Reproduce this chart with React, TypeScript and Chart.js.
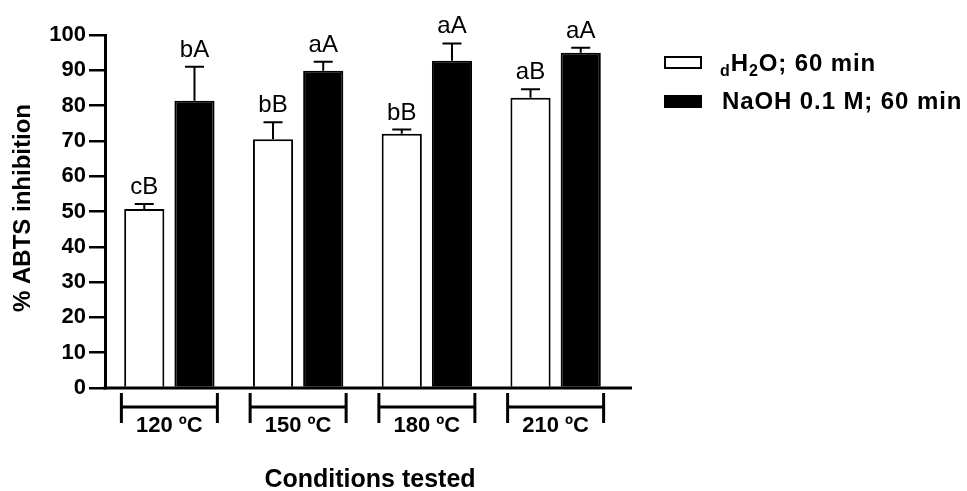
import React, { useEffect, useRef } from 'react';
import { Chart, registerables } from 'chart.js';

Chart.register(...registerables);

const categories = ['120 ºC', '150 ºC', '180 ºC', '210 ºC'];
const waterValues = [50.7, 70.5, 72.0, 82.2];
const waterErrors = [1.4, 4.8, 1.2, 2.4];
const naohValues = [81.4, 89.9, 92.7, 95.0];
const naohErrors = [9.6, 2.5, 4.9, 1.4];
const waterLetters = ['cB', 'bB', 'bB', 'aB'];
const naohLetters = ['bA', 'aA', 'aA', 'aA'];
const yMin = 0;
const yMax = 100;
const yStep = 10;
const yTitle = '% ABTS inhibition';
const xTitle = 'Conditions tested';
const naohLegend = 'NaOH 0.1 M; 60 min';

const FONT = '"Liberation Sans", Arial, Helvetica, sans-serif';

const overlay = {
  id: 'overlay',
  afterDraw(chart: any) {
    const ctx = chart.ctx as CanvasRenderingContext2D;
    const xs = chart.scales.x;
    const ys = chart.scales.y;
    const area = chart.chartArea;
    ctx.save();
    ctx.strokeStyle = '#000';
    ctx.fillStyle = '#000';
    const base = ys.getPixelForValue(0);

    // x baseline
    ctx.lineWidth = 3;
    ctx.beginPath();
    ctx.moveTo(area.left - 1.5, base);
    ctx.lineTo(area.right + 12, base);
    ctx.stroke();

    // error bars and letters
    const sets: [number[], number[], string[]][] = [
      [waterValues, waterErrors, waterLetters],
      [naohValues, naohErrors, naohLetters],
    ];
    sets.forEach(([vals, errs, lets], di) => {
      const meta = chart.getDatasetMeta(di);
      meta.data.forEach((bar: any, i: number) => {
        const top = ys.getPixelForValue(vals[i] + errs[i]);
        const bx = bar.x;
        ctx.lineWidth = 2;
        ctx.beginPath();
        ctx.moveTo(bx, bar.y);
        ctx.lineTo(bx, top);
        ctx.moveTo(bx - 9.5, top);
        ctx.lineTo(bx + 9.5, top);
        ctx.stroke();
        ctx.font = `24px ${FONT}`;
        ctx.textAlign = 'center';
        ctx.textBaseline = 'alphabetic';
        ctx.fillText(lets[i], bx, top - 10);
      });
    });

    // category brackets
    categories.forEach((c, i) => {
      const cx = xs.getPixelForValue(i);
      const l = cx - 48;
      const r = cx + 48;
      ctx.lineWidth = 3;
      ctx.beginPath();
      ctx.moveTo(l, base + 5);
      ctx.lineTo(l, base + 35);
      ctx.moveTo(r, base + 5);
      ctx.lineTo(r, base + 35);
      ctx.moveTo(l, base + 19);
      ctx.lineTo(r, base + 19);
      ctx.stroke();
      ctx.font = `bold 22px ${FONT}`;
      ctx.textAlign = 'center';
      ctx.textBaseline = 'alphabetic';
      ctx.fillText(c, cx, base + 44);
    });

    // axis titles
    ctx.save();
    ctx.translate(23, 208);
    ctx.rotate(-Math.PI / 2);
    ctx.font = `bold 24px ${FONT}`;
    ctx.textAlign = 'center';
    ctx.textBaseline = 'middle';
    ctx.fillText(yTitle, 0, 0);
    ctx.restore();

    ctx.font = `bold 25px ${FONT}`;
    ctx.textAlign = 'center';
    ctx.textBaseline = 'middle';
    ctx.fillText(xTitle, 370, 480);

    // legend
    ctx.lineWidth = 2;
    ctx.fillStyle = '#fff';
    ctx.fillRect(665, 57, 36, 11);
    ctx.strokeRect(665, 57, 36, 11);
    ctx.fillStyle = '#000';
    ctx.fillRect(664, 95, 38, 13);

    ctx.textAlign = 'left';
    ctx.textBaseline = 'alphabetic';
    (ctx as any).letterSpacing = '0.9px';
    // row 1: dH2O; 60 min
    let tx = 720;
    const b1 = 71;
    ctx.font = `bold 16px ${FONT}`;
    ctx.fillText('d', tx, b1 + 5);
    tx += ctx.measureText('d').width;
    ctx.font = `bold 24px ${FONT}`;
    ctx.fillText('H', tx, b1);
    tx += ctx.measureText('H').width;
    ctx.font = `bold 16px ${FONT}`;
    ctx.fillText('2', tx, b1 + 5);
    tx += ctx.measureText('2').width;
    ctx.font = `bold 24px ${FONT}`;
    ctx.fillText('O; 60 min', tx, b1);
    // row 2
    ctx.fillText(naohLegend, 722, 109);
    (ctx as any).letterSpacing = '0px';

    ctx.restore();
  },
};

export default function App() {
  const ref = useRef<HTMLCanvasElement | null>(null);
  useEffect(() => {
    document.body.style.margin = '0';
    const canvas = ref.current;
    if (!canvas) return;
    const chart = new Chart(canvas, {
      type: 'bar',
      data: {
        labels: categories,
        datasets: [
          {
            label: 'dH2O; 60 min',
            data: waterValues,
            backgroundColor: '#ffffff',
            borderColor: '#000000',
            borderWidth: 2,
            categoryPercentage: 0.78,
            barPercentage: 0.8,
          },
          {
            label: naohLegend,
            data: naohValues,
            backgroundColor: '#000000',
            borderColor: '#000000',
            borderWidth: 2,
            categoryPercentage: 0.78,
            barPercentage: 0.8,
          },
        ],
      },
      options: {
        animation: false,
        responsive: true,
        maintainAspectRatio: false,
        layout: { padding: { top: 35, right: 347, bottom: 0, left: 0 } },
        plugins: {
          legend: { display: false },
          tooltip: { enabled: false },
        },
        scales: {
          x: {
            grid: { display: false },
            ticks: { display: false },
            border: { display: false },
            afterFit: (scale: any) => {
              scale.height = 103;
            },
          },
          y: {
            min: yMin,
            max: yMax,
            ticks: {
              stepSize: yStep,
              color: '#000',
              padding: 3,
              font: { family: FONT, size: 22, weight: 'bold' },
            },
            grid: {
              drawOnChartArea: false,
              drawTicks: true,
              tickLength: 16,
              color: '#000',
              lineWidth: 2.5,
            },
            border: { display: true, color: '#000', width: 3 },
            afterFit: (scale: any) => {
              scale.width = 105;
            },
          },
        },
      },
      plugins: [overlay],
    });
    return () => chart.destroy();
  }, []);
  return (
    <div style={{ width: 967, height: 491, position: 'relative' }}>
      <canvas ref={ref} />
    </div>
  );
}
